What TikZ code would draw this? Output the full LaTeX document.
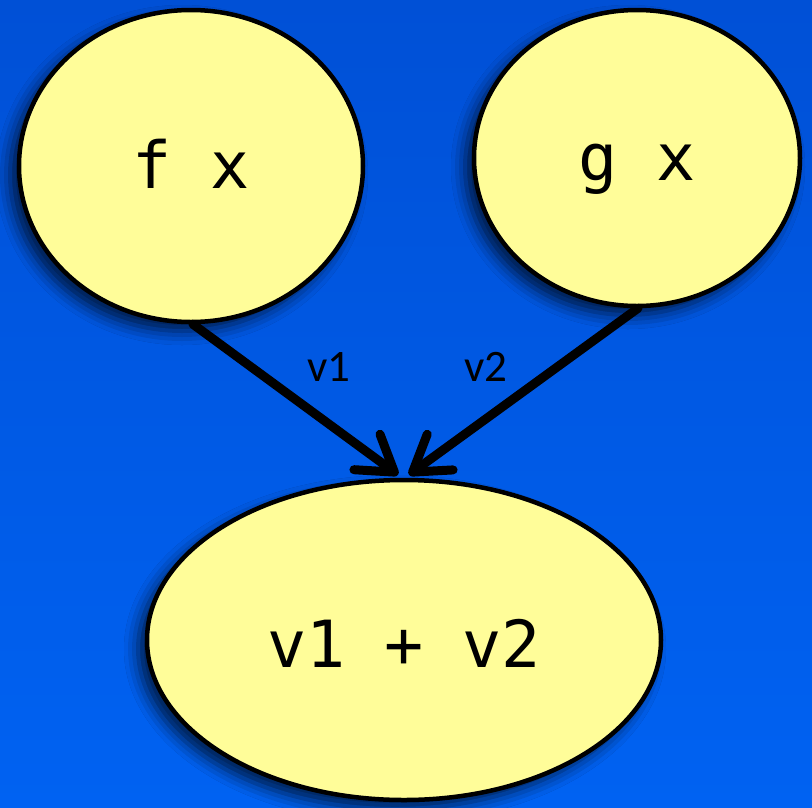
\documentclass[tikz,border=0pt]{standalone}
\usepackage{fontspec}
\setmonofont{DejaVu Sans Mono}
\newfontfamily\labelfont{Carlito}
\usetikzlibrary{arrows.meta,shapes.geometric,shadows.blur}
\definecolor{bgtop}{RGB}{0,80,214}
\definecolor{bgbot}{RGB}{0,98,242}
\definecolor{nodefill}{RGB}{255,253,153}
\tikzset{
  bubble/.style={ellipse, draw=black, line width=4.5pt, fill=nodefill, inner sep=0pt,
    font=\ttfamily\fontsize{65}{65}\selectfont, text depth=0pt,
    blur shadow={shadow xshift=-9pt, shadow yshift=-9pt, shadow blur radius=14pt, shadow opacity=70}},
  flow/.style={line width=9pt, line cap=round, -{Straight Barb[length=34pt,width=44pt,round]}},
  edgelabel/.style={font=\labelfont\fontsize{45}{45}\selectfont, text=black, inner sep=0pt}
}
\begin{document}
\begin{tikzpicture}[x=1pt,y=-1pt]
  \useasboundingbox (0,0) rectangle (812,807);
  \shade[top color=bgtop, bottom color=bgbot] (0,0) rectangle (812,807);
  \node[bubble, minimum width=344pt, minimum height=312pt, text height=44pt] (e1) at (191,166) {f x};
  \node[bubble, minimum width=326pt, minimum height=296pt, text height=44pt] (e2) at (637,158) {g x};
  \node[bubble, minimum width=514pt, minimum height=320pt, text height=54pt] (e3) at (404,640) {v1 + v2};
  \coordinate (t1) at ([xshift=-6pt,yshift=3pt]e3.north);
  \coordinate (t2) at ([xshift=5pt,yshift=3pt]e3.north);
  \draw[flow] ([xshift=2pt]e1.south) -- (t1);
  \draw[flow] ([xshift=1pt]e2.south) -- (t2);
  \node[edgelabel] (l1) at (329,367) {v1};
  \node[edgelabel] (l2) at (486,367) {v2};
\end{tikzpicture}
\end{document}
